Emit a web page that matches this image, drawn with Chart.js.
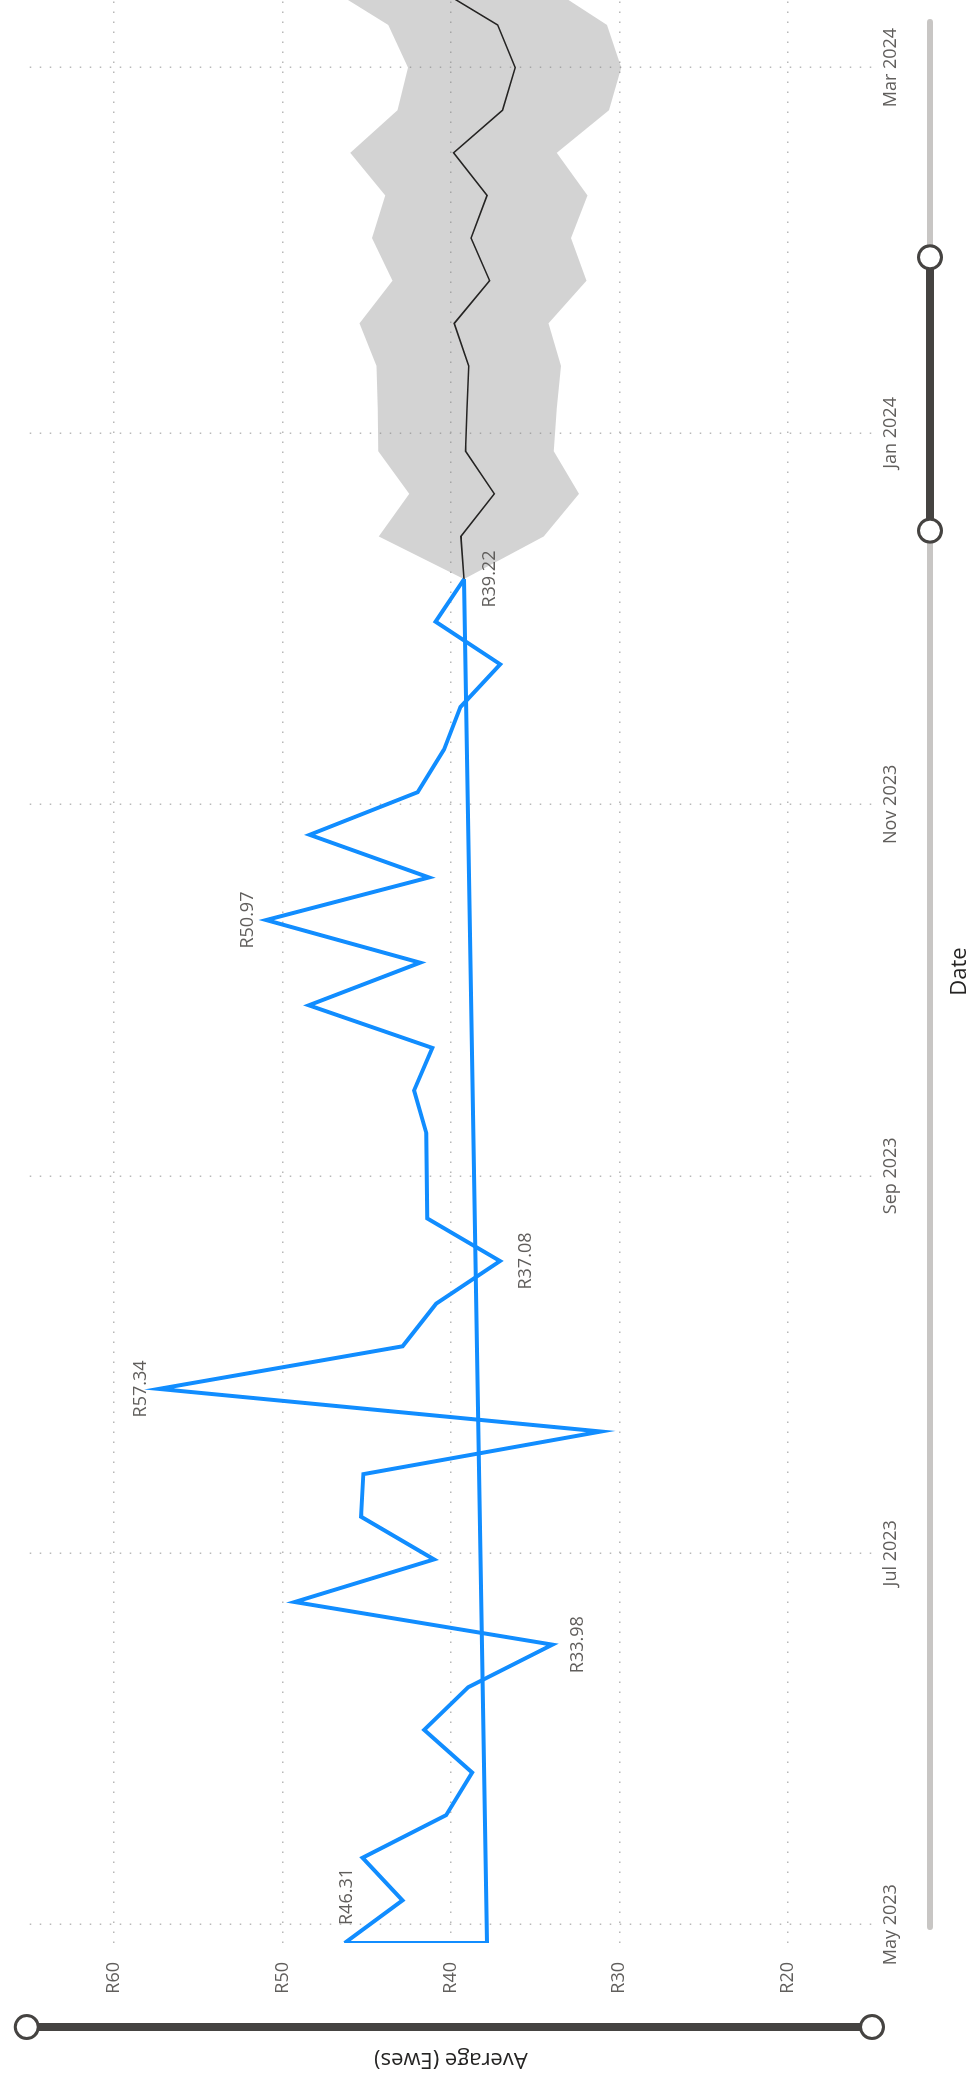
<!DOCTYPE html>
<html>
<head>
<meta charset="utf-8">
<script src="https://cdn.jsdelivr.net/npm/chart.js@4.4.1/dist/chart.umd.min.js"></script>
<style>
  html, body { margin: 0; padding: 0; background: #fff; overflow: hidden; }
  /* chart is laid out landscape, then turned a quarter turn anticlockwise */
  #wrap {
    position: absolute; left: 0; top: 0;
    width: 2081px; height: 971px;
    transform-origin: 0 0;
    transform: translate(0, 2081px) rotate(-90deg);
  }
</style>
</head>
<body>
<div id="wrap"><canvas id="chart" width="2081" height="971"></canvas></div>
<script>
const actualDates = [
  '2023-04-28','2023-05-05','2023-05-12','2023-05-19','2023-05-26','2023-06-02','2023-06-09',
  '2023-06-16','2023-06-23','2023-06-30','2023-07-07','2023-07-14','2023-07-21','2023-07-28',
  '2023-08-04','2023-08-11','2023-08-18','2023-08-25','2023-09-01','2023-09-08','2023-09-15',
  '2023-09-22','2023-09-29','2023-10-06','2023-10-13','2023-10-20','2023-10-27','2023-11-03',
  '2023-11-10','2023-11-17','2023-11-24','2023-12-01','2023-12-08'
];
const actualValues = [
  46.31, 42.87, 45.24, 40.28, 38.74, 41.59, 38.98,
  33.98, 49.27, 41.00, 45.33, 45.20, 31.10, 57.34,
  42.87, 40.87, 37.08, 41.40, 41.43, 41.46, 42.19,
  41.10, 48.44, 41.83, 50.97, 41.30, 48.39, 41.97,
  40.41, 39.43, 37.07, 40.91, 39.22
];
// trend line: value at first date, value at last date
const trendValues = [37.85, 39.22];

const forecastDates = [
  '2023-12-08','2023-12-15','2023-12-22','2023-12-29','2024-01-05','2024-01-12','2024-01-19',
  '2024-01-26','2024-02-02','2024-02-09','2024-02-16','2024-02-23','2024-03-01','2024-03-08','2024-03-15'
];
const forecastValues = [39.22, 39.41, 37.42, 39.13, 39.04, 38.94, 39.80, 37.70, 38.80, 37.85, 39.84, 36.93, 36.18, 37.22, 41.42];
const forecastUpper  = [39.22, 44.29, 42.48, 44.31, 44.35, 44.41, 45.43, 43.46, 44.69, 43.90, 45.98, 43.17, 42.54, 43.72, 47.81];
const forecastLower  = [39.22, 34.49, 32.40, 33.90, 33.72, 33.46, 34.21, 31.95, 32.87, 31.89, 33.72, 30.61, 29.88, 30.73, 34.64];

const tickDates  = ['2023-05-01','2023-07-01','2023-09-01','2023-11-01','2024-01-01','2024-03-01'];
const tickLabels = ['May 2023','Jul 2023','Sep 2023','Nov 2023','Jan 2024','Mar 2024'];
const valueTicks = [20, 30, 40, 50, 60];

const labelledPoints = [0, 7, 13, 16, 24, 32];
const labelPlacement = ['right', 'below', 'above', 'below', 'above', 'below'];

const day = s => { const [y, m, d] = s.split('-').map(Number); return Date.UTC(y, m - 1, d) / 864e5; };
const pts = (dates, vals) => dates.map((d, i) => ({x: day(d), y: vals[i]}));

const font = '"Open Sans", "Noto Sans", sans-serif';
const blue = '#118DFF';
const grey = '#605E5C';

const dataLabels = {
  id: 'dataLabels',
  afterDatasetsDraw(chart) {
    const ctx = chart.ctx;
    const meta = chart.getDatasetMeta(0);
    ctx.save();
    ctx.font = '18px ' + font;
    ctx.fillStyle = grey;
    ctx.textBaseline = 'middle';
    labelledPoints.forEach((idx, k) => {
      const p = meta.data[idx];
      const text = 'R' + actualValues[idx].toFixed(2);
      if (labelPlacement[k] === 'right') {
        ctx.textAlign = 'left';
        ctx.fillText(text, p.x + 18, p.y + 2);
      } else {
        ctx.textAlign = 'center';
        ctx.fillText(text, p.x, labelPlacement[k] === 'above' ? p.y - 18 : p.y + 26);
      }
    });
    ctx.restore();
  }
};

// zoom sliders drawn by Power BI next to both axes
const sliders = {
  id: 'sliders',
  afterDraw(chart) {
    const {ctx, chartArea: a} = chart;
    const dark = '#454341', light = '#c8c6c4';
    const seg = (x0, y0, x1, y1, w, c, cap) => {
      ctx.beginPath(); ctx.moveTo(x0, y0); ctx.lineTo(x1, y1);
      ctx.lineWidth = w; ctx.strokeStyle = c; ctx.lineCap = cap; ctx.stroke();
    };
    const knob = (x, y) => {
      ctx.beginPath(); ctx.arc(x, y, 11.5, 0, Math.PI * 2);
      ctx.fillStyle = '#fff'; ctx.fill();
      ctx.lineWidth = 3; ctx.strokeStyle = dark; ctx.stroke();
    };
    ctx.save();
    // value slider, full range selected
    seg(54, a.top - 3, 54, a.bottom, 8, dark, 'butt');
    knob(54, a.top - 3); knob(54, a.bottom);
    // date slider
    const y = 930, x0 = a.left + 16, x1 = a.right - 22;
    seg(x0, y, x1, y, 6, light, 'round');
    const h0 = x0 + (x1 - x0) * 0.733, h1 = x0 + (x1 - x0) * 0.8765;
    seg(h0, y, h1, y, 8, dark, 'butt');
    knob(h0, y); knob(h1, y);
    ctx.restore();
  }
};

new Chart(document.getElementById('chart'), {
  type: 'line',
  data: {
    datasets: [
      {
        label: 'Average',
        data: pts(actualDates, actualValues),
        borderColor: blue,
        borderWidth: 4,
        pointRadius: 0,
        tension: 0,
        fill: false
      },
      {
        label: 'Trend',
        data: [
          {x: day(actualDates[actualDates.length - 1]), y: trendValues[1]},
          {x: day(actualDates[0]), y: trendValues[0]},
          {x: day(actualDates[0]), y: actualValues[0]}
        ],
        borderColor: blue,
        borderWidth: 4,
        pointRadius: 0,
        fill: false
      },
      {
        label: 'Forecast',
        data: pts(forecastDates, forecastValues),
        borderColor: '#252423',
        borderWidth: 1.6,
        pointRadius: 0,
        fill: false
      },
      {
        label: 'Upper',
        data: pts(forecastDates, forecastUpper),
        borderWidth: 0,
        pointRadius: 0,
        backgroundColor: 'rgba(128,128,128,0.35)',
        fill: '+1'
      },
      {
        label: 'Lower',
        data: pts(forecastDates, forecastLower),
        borderWidth: 0,
        pointRadius: 0,
        fill: false
      }
    ]
  },
  options: {
    responsive: false,
    animation: false,
    devicePixelRatio: 1,
    layout: {padding: {top: 26, right: 0, left: 0, bottom: 0}},
    plugins: {legend: {display: false}, tooltip: {enabled: false}},
    scales: {
      x: {
        type: 'linear',
        min: day(actualDates[0]),
        max: day('2024-03-12') + 0.1,
        afterBuildTicks: s => { s.ticks = tickDates.map(d => ({value: day(d)})); },
        afterFit: s => { s.height = 99; },
        grid: {color: '#b8b8b8', lineWidth: 1.5, drawTicks: false},
        border: {display: false, dash: [1.5, 8.5]},
        ticks: {
          padding: 8,
          maxRotation: 0,
          autoSkip: false,
          color: grey,
          font: {family: font, size: 18},
          callback: v => tickLabels[tickDates.findIndex(d => day(d) === v)]
        },
        title: {
          display: true, text: 'Date', color: '#252423',
          font: {family: font, size: 22, lineHeight: 1},
          padding: {top: 0, bottom: 0}
        }
      },
      y: {
        min: 15,
        max: 65,
        afterBuildTicks: s => { s.ticks = valueTicks.map(v => ({value: v})); },
        afterFit: s => { s.width = 138; },
        grid: {color: '#b8b8b8', lineWidth: 1.5, drawTicks: false},
        border: {display: false, dash: [1.5, 8.5]},
        ticks: {
          padding: 19,
          color: grey,
          font: {family: font, size: 18},
          callback: v => 'R' + v
        },
        title: {
          display: true, text: 'Average (Ewes)', color: '#252423',
          font: {family: font, size: 22, lineHeight: 1},
          padding: {top: 11, bottom: 0}
        }
      }
    }
  },
  plugins: [dataLabels, sliders]
});
</script>
</body>
</html>
